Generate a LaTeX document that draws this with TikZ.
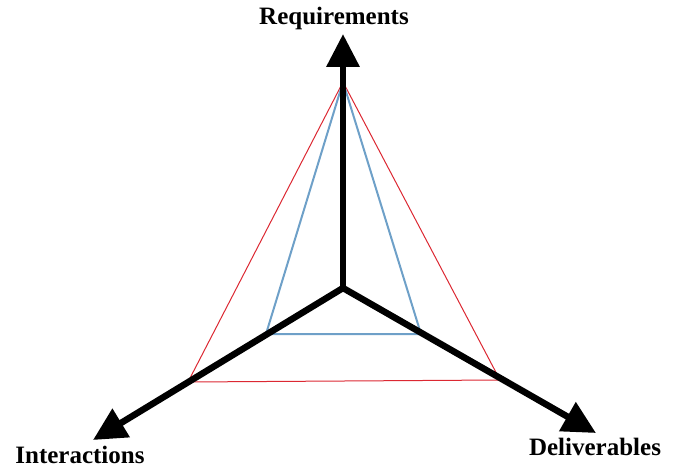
\documentclass[tikz,border=0pt]{standalone}
\usepackage{fontspec}
\setmainfont{Liberation Serif}
\usetikzlibrary{arrows.meta}
\begin{document}
\begin{tikzpicture}[x=1pt,y=-1pt,
  axis/.style={line width=6.5pt,-{Triangle[length=33pt,width=32pt]}},
  lbl/.style={font=\fontsize{25}{28}\selectfont\bfseries,inner sep=0pt},
  redtri/.style={draw={rgb,255:red,220;green,40;blue,50},line width=1pt,line join=miter},
  bluetri/.style={draw={rgb,255:red,110;green,160;blue,200},line width=2pt,line join=miter}]
\useasboundingbox (0,0) rectangle (682,468);
\coordinate (o) at (343,288);
\coordinate (top) at (343,34);
\coordinate (lt) at (93,440);
\coordinate (rt) at (596,433);
\coordinate (apex) at (343,82);
\coordinate (rl) at (188,382);
\coordinate (rr) at (500,380);
\coordinate (bl) at (266,334);
\coordinate (br) at (421,334);
\draw[redtri] (apex) -- (rl) -- (rr) -- cycle;
\draw[bluetri] (apex) -- (bl) -- (br) -- cycle;
\draw[axis] (o) -- (top);
\draw[axis] (o) -- (lt);
\draw[axis] (o) -- (rt);
\node[lbl] (req) at (334,18) {Requirements};
\node[lbl] (int) at (80,455) {Interactions};
\node[lbl] (del) at (595,447) {Deliverables};
\end{tikzpicture}
\end{document}
